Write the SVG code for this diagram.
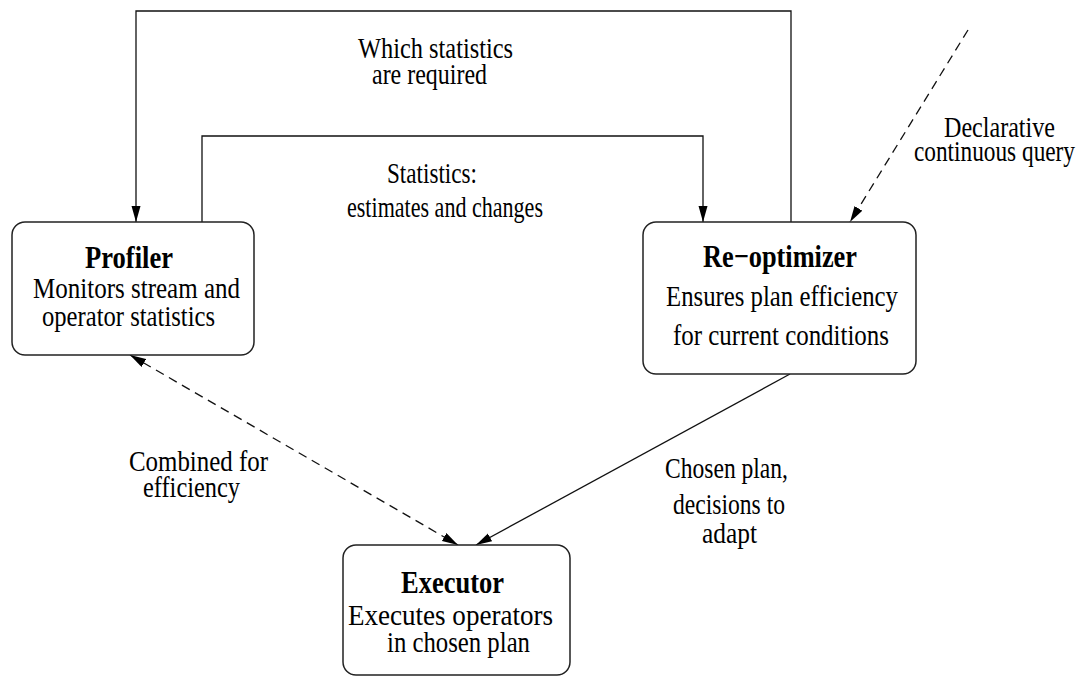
<svg xmlns="http://www.w3.org/2000/svg" width="1082" height="677" viewBox="0 0 1082 677">
  <defs>
    <marker id="arrow" markerUnits="userSpaceOnUse" markerWidth="18" markerHeight="10" refX="16" refY="4.5" orient="auto-start-reverse">
      <path d="M0,0 L16,4.5 L0,9 z" fill="#000"/>
    </marker>
    <style>
      .box { fill: #fff; stroke: #222; stroke-width: 1.5; }
      .line { fill: none; stroke: #111; stroke-width: 1.3; }
      .dash { stroke-dasharray: 9 6; }
      text { font-family: "Liberation Serif", "Times New Roman", serif; font-size: 30px; fill: #000; }
      .title { font-weight: bold; font-size: 32px; }
    </style>
  </defs>
  <rect width="1082" height="677" fill="#fff"/>

  <!-- connectors -->
  <g id="connectors">
    <!-- statistics request loop: re-optimizer -> profiler -->
    <polyline class="line" points="791,222 791,11 136,11 136,222" marker-end="url(#arrow)"/>
    <!-- statistics loop: profiler -> re-optimizer -->
    <polyline class="line" points="202,222 202,136 703,136 703,222" marker-end="url(#arrow)"/>
    <!-- incoming query -->
    <line class="line dash" x1="968" y1="30" x2="850" y2="222" marker-end="url(#arrow)"/>
    <!-- profiler <-> executor -->
    <line class="line dash" x1="130" y1="355" x2="458" y2="545" marker-start="url(#arrow)" marker-end="url(#arrow)"/>
    <!-- re-optimizer -> executor -->
    <line class="line" x1="790" y1="374" x2="476" y2="545" marker-end="url(#arrow)"/>
  </g>

  <!-- connector labels -->
  <g id="labels">
    <text x="358" y="58" textLength="155" lengthAdjust="spacingAndGlyphs">Which statistics</text>
    <text x="372" y="84" textLength="115" lengthAdjust="spacingAndGlyphs">are required</text>
    <text x="387" y="183" textLength="90" lengthAdjust="spacingAndGlyphs">Statistics:</text>
    <text x="347" y="217" textLength="196" lengthAdjust="spacingAndGlyphs">estimates and changes</text>
    <text x="944" y="137" textLength="111" lengthAdjust="spacingAndGlyphs">Declarative</text>
    <text x="914" y="161" textLength="161" lengthAdjust="spacingAndGlyphs">continuous query</text>
    <text x="129" y="471" textLength="139" lengthAdjust="spacingAndGlyphs">Combined for</text>
    <text x="143" y="497" textLength="97" lengthAdjust="spacingAndGlyphs">efficiency</text>
    <text x="665" y="478" textLength="123" lengthAdjust="spacingAndGlyphs">Chosen plan,</text>
    <text x="673" y="514" textLength="112" lengthAdjust="spacingAndGlyphs">decisions to</text>
    <text x="702" y="543" textLength="55" lengthAdjust="spacingAndGlyphs">adapt</text>
  </g>

  <g id="profiler">
    <rect class="box" x="12" y="222" width="242" height="133" rx="13"/>
    <text class="title" x="85" y="268" textLength="88" lengthAdjust="spacingAndGlyphs">Profiler</text>
    <text x="33" y="298" textLength="207" lengthAdjust="spacingAndGlyphs">Monitors stream and</text>
    <text x="42" y="326" textLength="173" lengthAdjust="spacingAndGlyphs">operator statistics</text>
  </g>

  <g id="reoptimizer">
    <rect class="box" x="643" y="222" width="273" height="152" rx="13"/>
    <text class="title" x="703" y="267" textLength="154" lengthAdjust="spacingAndGlyphs">Re−optimizer</text>
    <text x="666" y="306" textLength="232" lengthAdjust="spacingAndGlyphs">Ensures plan efficiency</text>
    <text x="673" y="345" textLength="216" lengthAdjust="spacingAndGlyphs">for current conditions</text>
  </g>

  <g id="executor">
    <rect class="box" x="343" y="545" width="227" height="130" rx="13"/>
    <text class="title" x="401" y="593" textLength="103" lengthAdjust="spacingAndGlyphs">Executor</text>
    <text x="348" y="625" textLength="205" lengthAdjust="spacingAndGlyphs">Executes operators</text>
    <text x="387" y="652" textLength="143" lengthAdjust="spacingAndGlyphs">in chosen plan</text>
  </g>
</svg>
